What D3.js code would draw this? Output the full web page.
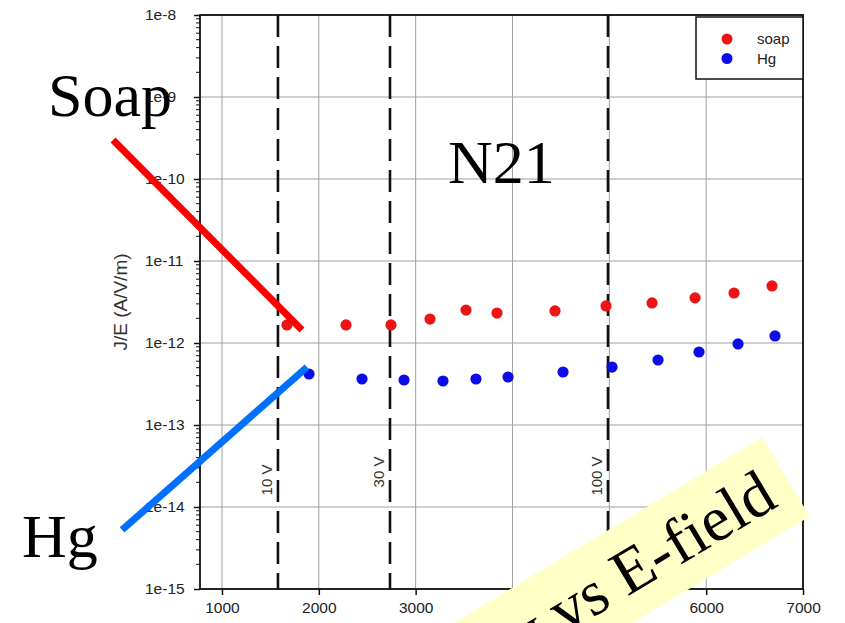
<!DOCTYPE html>
<html>
<head>
<meta charset="utf-8">
<script src="https://cdn.jsdelivr.net/npm/d3@7/dist/d3.min.js"></script>
<style>
  html, body { margin: 0; padding: 0; background: #fff; overflow: hidden; }
  svg { display: block; }
</style>
</head>
<body>
<svg id="chart" width="845" height="623"></svg>
<script>
// ---- data ----
const soapField = [1671, 2281, 2745, 3148, 3520, 3840, 4439, 4966, 5441, 5885, 6288, 6680];
const soapJE = [1.66e-12, 1.66e-12, 1.66e-12, 1.96e-12, 2.52e-12, 2.32e-12, 2.46e-12, 2.83e-12, 3.08e-12, 3.55e-12, 4.07e-12, 4.96e-12];
const hgField = [1899, 2446, 2880, 3282, 3623, 3954, 4522, 5028, 5503, 5926, 6329, 6711];
const hgJE = [4.19e-13, 3.64e-13, 3.54e-13, 3.44e-13, 3.64e-13, 3.85e-13, 4.43e-13, 5.09e-13, 6.2e-13, 7.77e-13, 9.73e-13, 1.22e-12];
const xTicks = [1000, 2000, 3000, 4000, 5000, 6000, 7000];
const yTicks = [1e-15, 1e-14, 1e-13, 1e-12, 1e-11, 1e-10, 1e-9, 1e-8];
const yTickLabels = ["1e-15", "1e-14", "1e-13", "1e-12", "1e-11", "1e-10", "1e-9", "1e-8"];
const voltageField = [1578, 2735, 4986];
const voltageLabels = ["10 V", "30 V", "100 V"];
const seriesNames = ["soap", "Hg"];
// annotation pointer lines (in data units)
const soapPointer = [[-125, 2.99e-10], [1826, 1.44e-12]];
const hgPointer = [[-32, 5.25e-15], [1878, 5.09e-13]];

const svg = d3.select("#chart");
const L = 200, R = 803, T = 15, B = 589;
const x = d3.scaleLinear().domain([773, 7000]).range([L, R]);
const y = d3.scaleLog().domain([1e-15, 1e-8]).range([B, T]);

const red = "#ec1414", blue = "#0c0ce6";
const font = "Liberation Sans, Arial, sans-serif";

// grid
const g = svg.append("g");
g.selectAll("line.vg").data(xTicks).join("line")
  .attr("x1", d => x(d)).attr("x2", d => x(d)).attr("y1", T).attr("y2", B)
  .attr("stroke", "#a0a0a0").attr("stroke-width", 1);
g.selectAll("line.hg").data(yTicks).join("line")
  .attr("y1", d => y(d)).attr("y2", d => y(d)).attr("x1", L).attr("x2", R)
  .attr("stroke", "#a0a0a0").attr("stroke-width", 1);

// voltage dashed lines
g.selectAll("line.volt").data(voltageField).join("line")
  .attr("x1", d => x(d)).attr("x2", d => x(d)).attr("y1", T).attr("y2", B)
  .attr("stroke", "#111").attr("stroke-width", 2.6).attr("stroke-dasharray", "22,9");
const vLabelY = [480, 472, 476];
g.selectAll("text.volt").data(voltageField).join("text")
  .attr("transform", (d, i) => `translate(${x(d) - 6},${vLabelY[i]}) rotate(-90)`)
  .attr("text-anchor", "middle")
  .attr("font-family", font).attr("font-size", 15).attr("fill", "#333")
  .text((d, i) => voltageLabels[i]);

// axes
const xAxis = d3.axisBottom(x).tickValues(xTicks).tickSize(6).tickFormat(d3.format("d"));
const xg = svg.append("g").attr("transform", `translate(0,${B})`).call(xAxis);
xg.select(".domain").remove();
xg.selectAll(".tick line").attr("stroke", "#111").attr("stroke-width", 1.5);
xg.selectAll(".tick text").attr("font-family", font).attr("font-size", 15.5).attr("fill", "#222").attr("dy", "0.95em");

// minor y ticks
const minors = [];
for (let e = -15; e < -8; e++) for (let m = 2; m <= 9; m++) minors.push(m * Math.pow(10, e));
svg.append("g").selectAll("line").data(minors).join("line")
  .attr("x1", L - 4).attr("x2", L).attr("y1", d => y(d)).attr("y2", d => y(d))
  .attr("stroke", "#111").attr("stroke-width", 1);
const yAxis = d3.axisLeft(y).tickValues(yTicks).tickSize(6).tickFormat((d, i) => yTickLabels[i]);
const yg = svg.append("g").attr("transform", `translate(${L},0)`).call(yAxis);
yg.select(".domain").remove();
yg.selectAll(".tick line").attr("stroke", "#111").attr("stroke-width", 1.5);
yg.selectAll(".tick text").attr("font-family", font).attr("font-size", 15.5).attr("fill", "#222")
  .attr("text-anchor", "start").attr("x", 145 - L);

// frame
svg.append("rect").attr("x", L).attr("y", T).attr("width", R - L).attr("height", B - T)
  .attr("fill", "none").attr("stroke", "#111").attr("stroke-width", 1.8);

// y title
svg.append("text").attr("transform", "translate(127,302) rotate(-90)")
  .attr("text-anchor", "middle").attr("font-family", font).attr("font-size", 19).attr("fill", "#333")
  .text("J/E (A/V/m)");

// data points
svg.append("g").selectAll("circle").data(soapField).join("circle")
  .attr("cx", d => x(d)).attr("cy", (d, i) => y(soapJE[i])).attr("r", 5.6).attr("fill", red);
svg.append("g").selectAll("circle").data(hgField).join("circle")
  .attr("cx", d => x(d)).attr("cy", (d, i) => y(hgJE[i])).attr("r", 5.6).attr("fill", blue);

// legend
const lg = svg.append("g");
lg.append("rect").attr("x", 696).attr("y", 17).attr("width", 107).attr("height", 62)
  .attr("fill", "#fff").attr("stroke", "#111").attr("stroke-width", 1.5);
const legColors = [red, blue];
seriesNames.forEach((n, i) => {
  lg.append("circle").attr("cx", 727).attr("cy", 39 + i * 19.5).attr("r", 5.5).attr("fill", legColors[i]);
  lg.append("text").attr("x", 757).attr("y", 39 + i * 19.5).attr("dy", "0.35em")
    .attr("font-family", font).attr("font-size", 15).attr("fill", "#222").text(n);
});

// annotation overlay
const serif = "Liberation Serif, Times New Roman, serif";
svg.append("text").attr("x", 48).attr("y", 116).attr("font-family", serif).attr("font-size", 62).attr("fill", "#000").text("Soap");
svg.append("text").attr("x", 22).attr("y", 557).attr("font-family", serif).attr("font-size", 62).attr("fill", "#000").text("Hg");
svg.append("text").attr("x", 448).attr("y", 183).attr("font-family", serif).attr("font-size", 62).attr("fill", "#000").text("N21");
const line = d3.line().x(d => x(d[0])).y(d => y(d[1]));
svg.append("path").attr("d", line(soapPointer)).attr("stroke", "#ff0000").attr("stroke-width", 7).attr("fill", "none");
svg.append("path").attr("d", line(hgPointer)).attr("stroke", "#0070ff").attr("stroke-width", 7).attr("fill", "none");

// yellow rotated banner
const banner = svg.append("g").attr("transform", "translate(786,477) rotate(-31)");
banner.append("rect").attr("x", -800).attr("y", -46).attr("width", 800).attr("height", 92).attr("fill", "#ffffc8");
banner.append("text").attr("x", -20).attr("y", 21).attr("text-anchor", "end")
  .attr("font-family", serif).attr("font-size", 64).attr("fill", "#000").text("Conductivity vs E-field");
</script>
</body>
</html>
